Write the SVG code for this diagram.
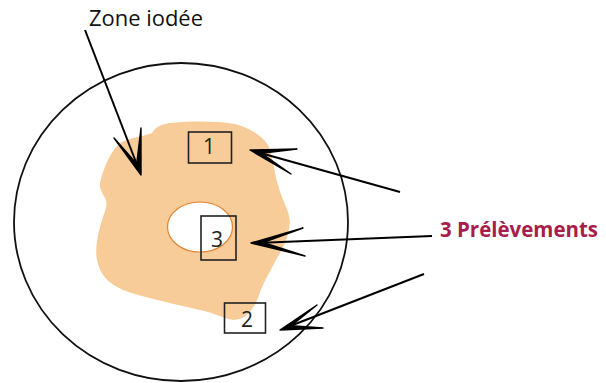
<svg xmlns="http://www.w3.org/2000/svg" width="606" height="383" viewBox="0 0 606 383">
<style>
.box{fill:none;stroke:#222;stroke-width:1.6}
.num{font-family:"Open Sans","Liberation Sans",sans-serif;font-size:21px;fill:#222;text-anchor:middle}
.shaft{stroke:#000;stroke-width:2;fill:none}
.head{fill:#000;stroke:#000;stroke-width:1.4;stroke-linejoin:round}
</style>
<rect width="606" height="383" fill="#fff"/>
<g id="zone">
<path d="M100,183 C104,165 112,150 120,143 C132,137 145,136 152,133 C155,127 162,124 170,123 C195,121 215,121 235,124 C250,128 262,136 268,145 C274,160 274,172 278,185 C282,200 290,212 290,222 C288,240 282,250 276,260 C268,275 262,285 258,298 C252,312 245,320 233,320 C222,318 212,312 200,310 C175,304 145,298 123,290 C108,283 100,275 97,260 C95,250 97,238 100,227 C103,215 108,207 106,200 C103,193 99,190 100,183 Z" fill="#F8CC98"/>
<ellipse cx="200" cy="227" rx="32.5" ry="25" fill="#fff" stroke="#E0842E" stroke-width="1.2"/>
</g>
<g id="disque">
<ellipse cx="181" cy="222" rx="167" ry="159" fill="none" stroke="#111" stroke-width="1.8"/>
</g>
<g id="p1"><rect class="box" x="188.5" y="132" width="43" height="31"/><text class="num" x="209" y="154">1</text></g>
<g id="p3"><rect class="box" x="201" y="216" width="35" height="44"/><text class="num" x="217" y="247">3</text></g>
<g id="p2"><rect class="box" x="224.5" y="303" width="41" height="30"/><text class="num" x="247" y="327">2</text></g>
<g id="label-zone"><text x="89" y="26" font-family="'Open Sans','Liberation Sans',sans-serif" font-size="22" fill="#111" textLength="114" lengthAdjust="spacingAndGlyphs">Zone iodée</text></g>
<g id="label-prel"><text x="440" y="237" font-family="'Open Sans','Liberation Sans',sans-serif" font-weight="bold" font-size="21" fill="#A81E4B" textLength="158" lengthAdjust="spacingAndGlyphs">3 Prélèvements</text></g>
<g id="connectors">
<line class="shaft" x1="85" y1="30" x2="139" y2="170"/>
<polygon class="head" points="114,138 141,175 141,128 136.7,163.8"/>
<line class="shaft" x1="400" y1="192" x2="255" y2="151.5"/>
<polygon class="head" points="297,149 250,150 291,174 261.6,153.2"/>
<line class="shaft" x1="432" y1="236" x2="256" y2="243"/>
<polygon class="head" points="303,228 251,243 305,256 263,242.5"/>
<line class="shaft" x1="424" y1="274" x2="285" y2="328"/>
<polygon class="head" points="317,305 280,330 323,328 291.2,325.7"/>
</g>
</svg>
